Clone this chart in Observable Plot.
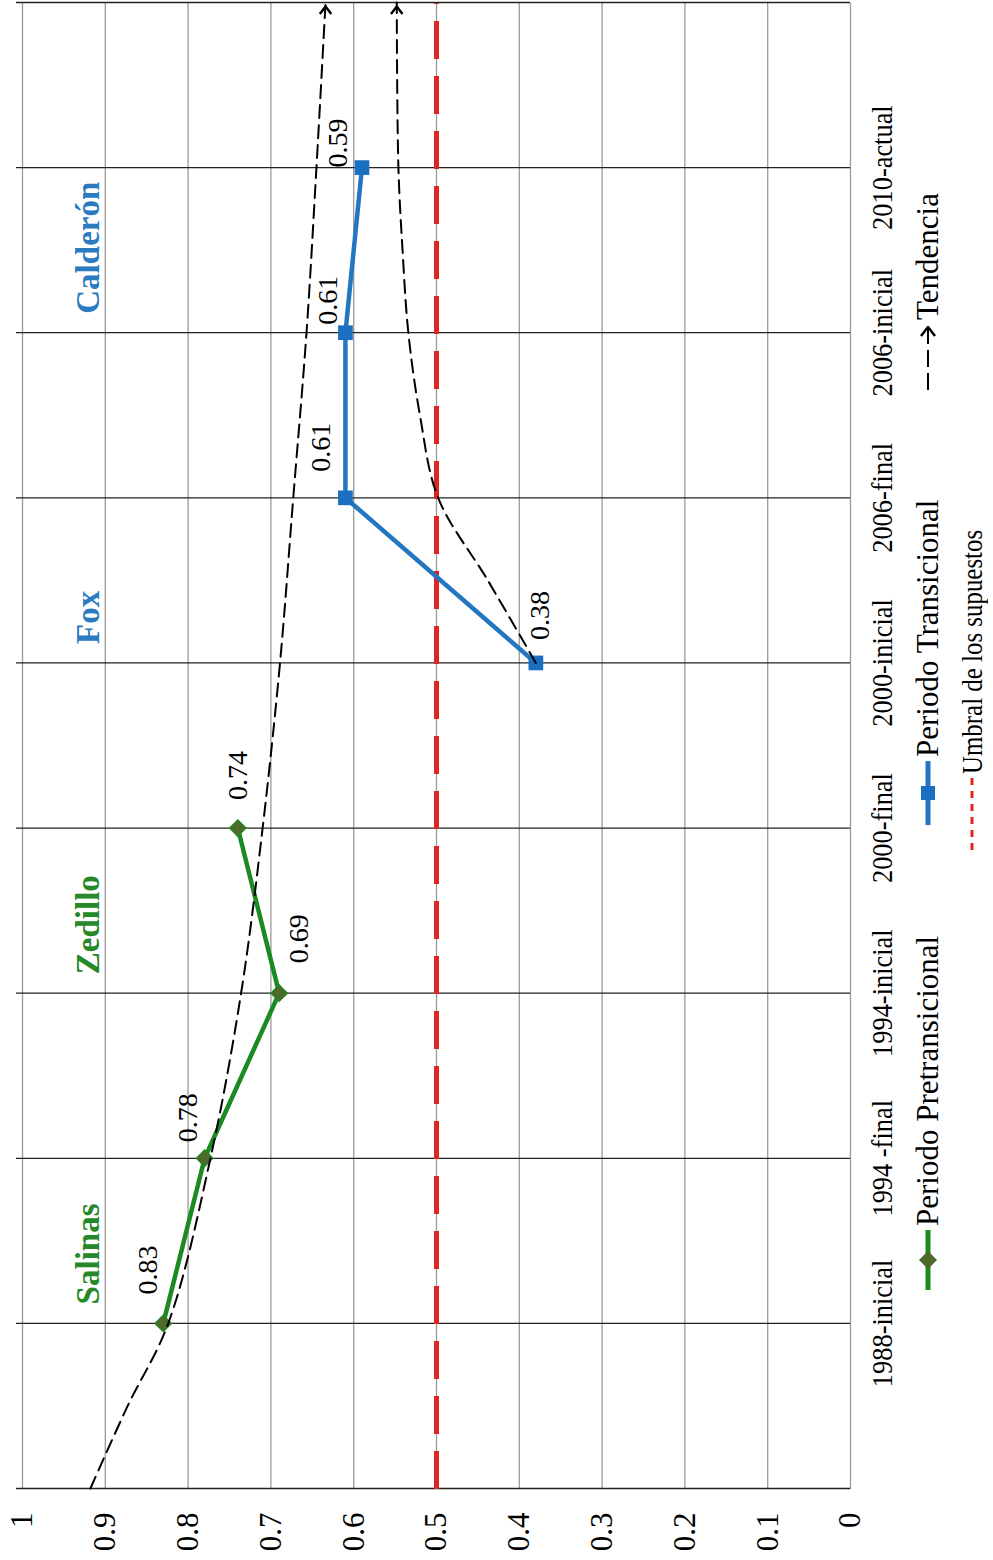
<!DOCTYPE html>
<html>
<head>
<meta charset="utf-8">
<script src="https://cdn.jsdelivr.net/npm/d3@7"></script>
<script src="https://cdn.jsdelivr.net/npm/@observablehq/plot@0.6"></script>
<style>
  html, body { margin: 0; padding: 0; background: #fff; }
  body { width: 993px; height: 1560px; overflow: hidden; position: relative; }
  /* the whole figure is laid out landscape and turned a quarter turn */
  #figure {
    position: absolute; left: 0; top: 0; width: 1560px; height: 993px;
    transform-origin: 0 0; transform: translate(0px, 1560px) rotate(-90deg);
    font-family: "Liberation Serif", "Times New Roman", serif; color: #000; background: #fff;
  }
  #chart svg { display: block; }
  #legend { position: absolute; left: 0; top: 900px; width: 1560px; height: 93px; }
  .item { position: absolute; display: flex; align-items: center; height: 40px; font-size: 31px; white-space: nowrap; }
  .item span { display: inline-block; transform-origin: 0 50%; }
  .item.small span { font-size: 30px; transform: scaleX(0.83); }
  .item svg { display: block; margin-right: 4px; }
</style>
</head>
<body>
<div id="figure">
  <div id="chart"></div>
  <div id="legend"></div>
</div>
<script>
// Categories along the horizontal axis (positions 1..8)
const categories = ["1988-inicial", "1994 -final", "1994-inicial", "2000-final",
                    "2000-inicial", "2006-final", "2006-inicial", "2010-actual"];

// Periodo Pretransicional
const preIndex = [1, 2, 3, 4];
const preValues = [0.83, 0.78, 0.69, 0.74];

// Periodo Transicional
const transIndex = [5, 6, 7, 8];
const transValues = [0.38, 0.61, 0.61, 0.59];

// Tendencia (two trend curves)
const trendPreIndex = [0, 0.5, 1, 2, 3, 4, 5, 6, 7, 8, 9];
const trendPreValues = [0.918, 0.873, 0.824, 0.773, 0.736, 0.710, 0.689, 0.673, 0.657, 0.645, 0.634];
const trendTransIndex = [5, 5.5, 6, 6.5, 7, 7.5, 8, 9];
const trendTransValues = [0.38, 0.438, 0.498, 0.520, 0.534, 0.541, 0.546, 0.548];

// Umbral de los supuestos
const threshold = 0.5;

// Presidential terms (start position of each term)
const presidents = ["Salinas", "Zedillo", "Fox", "Calderón"];
const presidentStart = [1, 3, 5, 7];

// Value axis ticks
const yTicks = [0, 0.1, 0.2, 0.3, 0.4, 0.5, 0.6, 0.7, 0.8, 0.9, 1];
const xFrame = [0, 1, 2, 3, 4, 5, 6, 7, 8, 9];

const GREEN = "#1c8a22", OLIVE = "#4d6a2b", BLUE = "#2377c0", BLUE_DARK = "#1b6fc0", RED = "#e02424";
const GREEN_TXT = "#25892a", BLUE_TXT = "#2a7bbf";

const pre = preIndex.map((x, i) => ({x, y: preValues[i]}));
const trans = transIndex.map((x, i) => ({x, y: transValues[i]}));
const trendPre = trendPreIndex.map((x, i) => ({x, y: trendPreValues[i]}));
const trendTrans = trendTransIndex.map((x, i) => ({x, y: trendTransValues[i]}));
const trendEnds = [trendPre[trendPre.length - 1], trendTrans[trendTrans.length - 1]];
const terms = presidents.map((name, i) => ({name, x: presidentStart[i], color: i < 2 ? GREEN_TXT : BLUE_TXT}));

// open arrowhead drawn at the end of each trend curve
const chevron = {
  draw(context, size) {
    const s = Math.sqrt(size);
    context.moveTo(-s * 0.95, -s * 0.72);
    context.lineTo(0, 0);
    context.lineTo(-s * 0.95, s * 0.72);
  }
};

// hand-placed offsets of the value labels (dx, dy in px)
const preNudge = [[29, -15], [16, -17], [30, 20], [28, 0]];
const transNudge = [[23, 4], [26, -24], [8, -17], [0, -24]];

const valueLabels = (rows, nudges) => rows.map((d, i) =>
  Plot.text([d], {x: "x", y: "y", text: d => String(d.y), textAnchor: "start",
                  dx: nudges[i][0], dy: nudges[i][1], fontSize: 28, fill: "#000"}));

const chart = Plot.plot({
  width: 1560,
  height: 900,
  marginLeft: 71,
  marginRight: 3,
  marginTop: 22,
  marginBottom: 50,
  style: {fontFamily: "Liberation Serif, Times New Roman, serif", fontSize: "27px", color: "#000", background: "#fff", overflow: "visible"},
  x: {type: "linear", domain: [0, 9], label: null},
  y: {type: "linear", domain: [0, 1], label: null},
  marks: [
    Plot.ruleY(yTicks, {stroke: "#9a9a9a", strokeWidth: 1.3}),
    Plot.ruleX(xFrame, {stroke: "#222", strokeWidth: 1.3, insetTop: -6}),
    Plot.axisY({ticks: yTicks, tickSize: 0, tickPadding: 24, fontSize: 31, label: null,
                tickFormat: d => (d === 0 || d === 1) ? String(d) : d.toFixed(1)}),
    Plot.axisX({ticks: preIndex.concat(transIndex), tickSize: 0, tickPadding: 20, fontSize: 30, label: null,
                tickFormat: d => categories[d - 1]}),
    Plot.ruleY([threshold], {stroke: RED, strokeWidth: 5, strokeDasharray: "38,17"}),
    Plot.line(pre, {x: "x", y: "y", stroke: GREEN, strokeWidth: 4.5}),
    Plot.line(trans, {x: "x", y: "y", stroke: BLUE, strokeWidth: 4.5}),
    Plot.dot(pre, {x: "x", y: "y", symbol: "diamond2", r: 7.5, fill: OLIVE, stroke: GREEN, strokeWidth: 1.2}),
    Plot.dot(trans, {x: "x", y: "y", symbol: "square", r: 8.3, fill: BLUE_DARK}),
    Plot.line(trendPre, {x: "x", y: "y", curve: "catmull-rom", stroke: "#000", strokeWidth: 2,
                         strokeDasharray: "13,7"}),
    Plot.line(trendTrans, {x: "x", y: "y", curve: "catmull-rom", stroke: "#000", strokeWidth: 2,
                           strokeDasharray: "13,7"}),
    Plot.dot(trendEnds, {x: "x", y: "y", symbol: chevron, r: 4.5, fill: "none", stroke: "#000",
                         strokeWidth: 2.4, strokeLinejoin: "round", dx: -4}),
    ...valueLabels(pre, preNudge),
    ...valueLabels(trans, transNudge),
    Plot.text(terms, {x: "x", text: "name", frameAnchor: "top", dy: 53, dx: 19, textAnchor: "start",
                      fill: "color", fontSize: 33, fontWeight: "bold", ariaLabel: "terms"})
  ]
});

// narrow the glyphs of the category and term labels (Times-like condensed look)
function condense(selector, k) {
  d3.select(chart).selectAll(selector).each(function () {
    const t = this.getAttribute("transform") || "";
    this.setAttribute("transform", `${t} scale(${k},1)`);
  });
}
condense('g[aria-label="x-axis tick label"] text', 0.88);
condense('g[aria-label="terms"] text', 0.9);
document.getElementById("chart").appendChild(chart);

// Legend
const legend = d3.select("#legend");
function addItem(left, top, text, drawSymbol, w, cls) {
  const item = legend.append("div").attr("class", "item" + (cls ? " " + cls : ""))
    .style("left", left + "px").style("top", top + "px");
  const svg = item.append("svg").attr("width", w).attr("height", 40);
  drawSymbol(svg, w);
  item.append("span").text(text);
}
addItem(270, 8, "Periodo Pretransicional", (s, w) => {
  s.append("line").attr("x1", 0).attr("x2", w).attr("y1", 20).attr("y2", 20).attr("stroke", GREEN).attr("stroke-width", 5);
  s.append("path").attr("d", `M${w / 2},11L${w / 2 + 9},20L${w / 2},29L${w / 2 - 9},20Z`).attr("fill", OLIVE);
}, 60);
addItem(735, 8, "Periodo Transicional", (s, w) => {
  s.append("line").attr("x1", 0).attr("x2", w).attr("y1", 20).attr("y2", 20).attr("stroke", BLUE).attr("stroke-width", 5);
  s.append("rect").attr("x", w / 2 - 7).attr("y", 13).attr("width", 14).attr("height", 14).attr("fill", BLUE_DARK);
}, 64);
addItem(1170, 8, "Tendencia", (s, w) => {
  s.append("line").attr("x1", 0).attr("x2", w - 4).attr("y1", 20).attr("y2", 20).attr("stroke", "#000")
    .attr("stroke-width", 2).attr("stroke-dasharray", "17,6");
  s.append("path").attr("d", `M${w - 12},13L${w - 3},20L${w - 12},27`).attr("fill", "none")
    .attr("stroke", "#000").attr("stroke-width", 2.5).attr("stroke-linejoin", "round");
}, 66);
addItem(710, 52, "Umbral de los supuestos", (s, w) => {
  s.append("line").attr("x1", 0).attr("x2", w).attr("y1", 20).attr("y2", 20).attr("stroke", RED)
    .attr("stroke-width", 3).attr("stroke-dasharray", "7,6");
}, 72, "small");
</script>
</body>
</html>
